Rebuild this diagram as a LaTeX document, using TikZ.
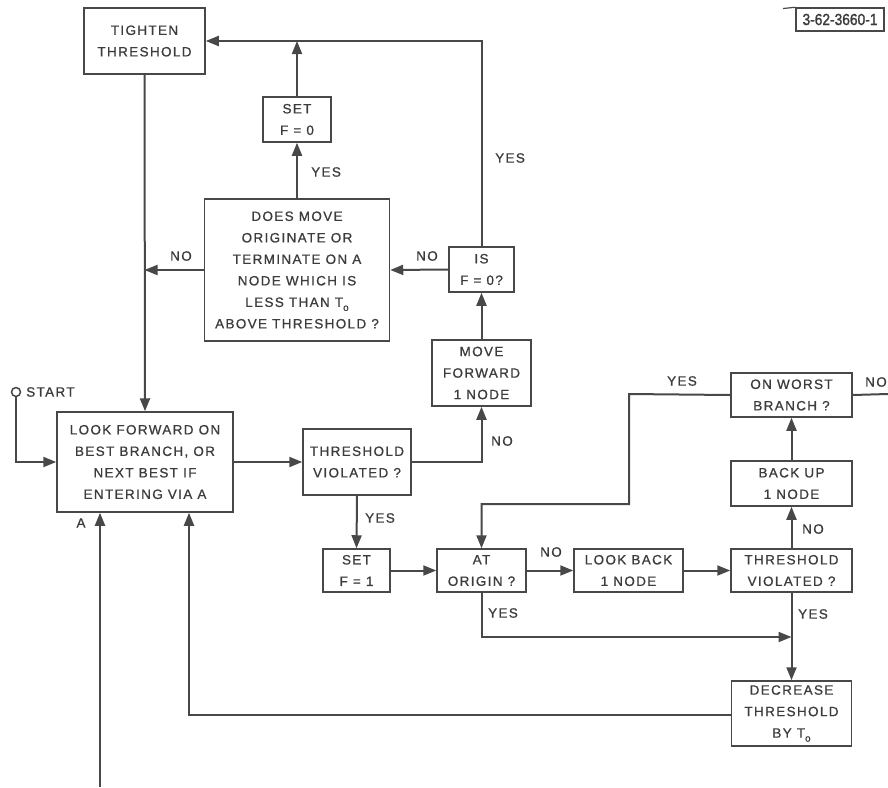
\documentclass[tikz,border=0pt]{standalone}
\usepackage{fontspec}
\setmainfont[LetterSpace=10,FakeBold=0.8]{Liberation Sans}
\newfontfamily\tagfont[FakeBold=1.5]{Liberation Sans}
\usetikzlibrary{arrows.meta}
\definecolor{ink}{RGB}{72,72,72}
\definecolor{tink}{RGB}{60,60,60}
\tikzset{
  box/.style={draw=ink, line width=1.5pt, align=center, inner sep=0pt, text=tink,
    font=\fontsize{13.5}{21.5}\selectfont},
  lbl/.style={text=tink, inner sep=0pt, font=\fontsize{13.5}{16}\selectfont},
  conn/.style={draw=ink, line width=2pt},
  arr/.style={conn, -{Triangle[length=13pt,width=10pt]}},
}
\newcommand{\Tsub}{T\raisebox{-4pt}{\fontsize{10}{10}\selectfont o}}
\begin{document}
\begin{tikzpicture}[x=1pt,y=-1pt]
\useasboundingbox (0,0) rectangle (888,787);
% boxes
\node[box, minimum width=121pt, minimum height=66pt] (tighten) at (144.5,41) {TIGHTEN\\THRESHOLD};
\node[box, minimum width=68pt, minimum height=45pt] (setF0) at (297,119.5) {SET\\F = 0};
\node[box, minimum width=185pt, minimum height=142pt] (does) at (297,270) {DOES MOVE\\ORIGINATE OR\\TERMINATE ON A\\NODE WHICH IS\\LESS THAN \Tsub\\ABOVE THRESHOLD ?};
\node[box, minimum width=65pt, minimum height=45pt] (isF0) at (481.5,269.5) {IS\\F = 0?};
\node[box, minimum width=99pt, minimum height=66pt] (movef) at (481.5,373) {MOVE\\FORWARD\\1 NODE};
\node[box, minimum width=176pt, minimum height=100pt] (lookf) at (145,462) {LOOK FORWARD ON\\BEST BRANCH, OR\\NEXT BEST IF\\ENTERING VIA A};
\node[box, minimum width=108pt, minimum height=66pt] (thr1) at (357,462) {THRESHOLD\\VIOLATED ?};
\node[box, minimum width=67pt, minimum height=43pt] (setF1) at (356.5,570.5) {SET\\F = 1};
\node[box, minimum width=89pt, minimum height=43pt] (atorig) at (481.5,570.5) {AT\\ORIGIN ?};
\node[box, minimum width=109pt, minimum height=43pt] (lookback) at (628.5,570.5) {LOOK BACK\\1 NODE};
\node[box, minimum width=121pt, minimum height=43pt] (thr2) at (791.5,570.5) {THRESHOLD\\VIOLATED ?};
\node[box, minimum width=121pt, minimum height=45pt] (backup) at (791.5,483.5) {BACK UP\\1 NODE};
\node[box, minimum width=121pt, minimum height=44pt] (worst) at (791.5,395) {ON WORST\\BRANCH ?};
\node[box, minimum width=120pt, minimum height=65pt] (decr) at (791.5,713.5) {DECREASE\\THRESHOLD\\BY \Tsub};
% tag
\node[draw=ink, line width=1.4pt, inner sep=0pt, minimum width=88pt, minimum height=23pt, text=tink] (tag) at (840,19.5)
  {\tagfont\fontsize{16}{16}\selectfont\scalebox{0.86}[1]{3-62-3660-1}};
\coordinate (tagl) at (783,8.5);
\draw[draw=ink, line width=1.2pt] (tagl) -- (tag.north west);
% start
\node[draw=ink, circle, line width=1.5pt, minimum size=9pt, inner sep=0pt] (start) at (16,392) {};
\node[lbl, anchor=west] (startl) at (26,392) {START};
% connectors
\coordinate (topR) at (isF0.north |- tighten.east);
\draw[arr] (isF0.north) -- (topR) -- (tighten.east);
\node[lbl, anchor=west] (y1) at (495,158) {YES};
\coordinate (topM) at (setF0.north |- tighten.east);
\draw[arr] (setF0.north) -- (topM);
\draw[arr] (does.north) -- (setF0.south);
\node[lbl, anchor=west] (y2) at (311,172) {YES};
\draw[arr] (isF0.west) -- (does.east);
\node[lbl] (n1) at (427,256) {NO};
\coordinate (jL) at (tighten.south |- does.west);
\draw[arr] (does.west) -- (jL);
\node[lbl] (n2) at (181,256) {NO};
\draw[arr] (tighten.south) -- (lookf.north);
\draw[arr] (movef.north) -- (isF0.south);
\draw[arr] (start.south) -- (start.south |- lookf.west) -- (lookf.west);
\draw[arr] (lookf.east) -- (thr1.west);
\draw[arr] (thr1.east) -- (movef.south |- thr1.east) -- (movef.south);
\node[lbl] (n3) at (502,441) {NO};
\draw[arr] (thr1.south) -- (setF1.north);
\node[lbl] (y3) at (380,518) {YES};
\draw[arr] (setF1.east) -- (atorig.west);
\draw[arr] (atorig.east) -- (lookback.west);
\node[lbl] (n4) at (551,552) {NO};
\draw[arr] (lookback.east) -- (thr2.west);
\draw[arr] (thr2.north) -- (backup.south);
\node[lbl] (n5) at (813,529) {NO};
\draw[arr] (backup.north) -- (worst.south);
\coordinate (edgeR) at (888,394);
\draw[conn] (worst.east) -- (edgeR);
\node[lbl] (n6) at (876,382) {NO};
\coordinate (w1) at (629,394);
\coordinate (w2) at (629,504);
\draw[arr] (worst.west) -- (w1) -- (w2) -- (atorig.north |- w2) -- (atorig.north);
\node[lbl] (y4) at (682,381) {YES};
\coordinate (o1) at (481.5,637);
\coordinate (o2) at (791.5,637);
\draw[arr] (atorig.south) -- (o1) -- (o2);
\node[lbl] (y5) at (503,613) {YES};
\draw[arr] (thr2.south) -- (decr.north);
\node[lbl] (y6) at (813,614) {YES};
\coordinate (d1) at (189,715);
\draw[arr] (decr.west |- d1) -- (d1) -- (d1 |- lookf.south);
\coordinate (bot) at (100,787);
\draw[arr] (bot) -- (bot |- lookf.south);
\node[lbl] (A) at (81,523) {A};
\end{tikzpicture}
\end{document}
